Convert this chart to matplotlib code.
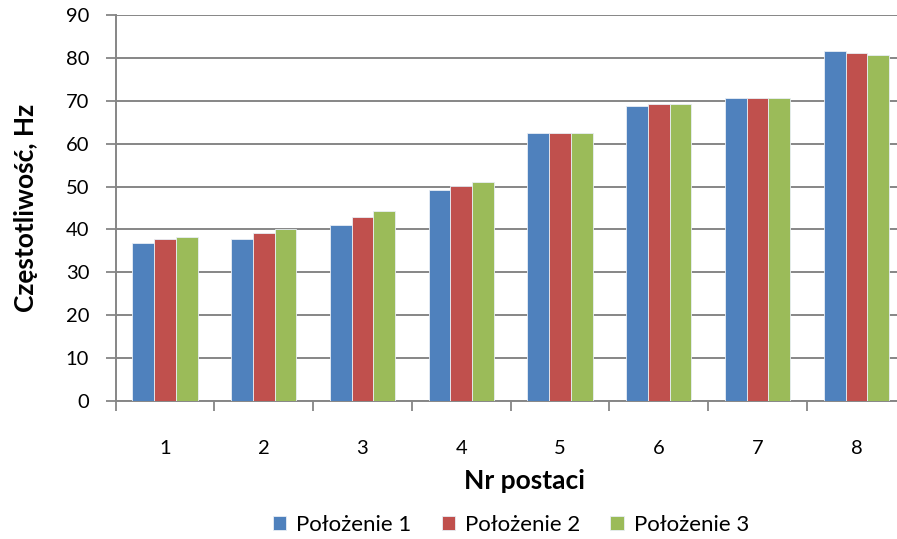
"""
Wykres słupkowy częstotliwości drgań własnych
dla kolejnych postaci i trzech położeń
"""

import numpy as np
from matplotlib import pyplot as plt, rcParams as rcP

# Dane
postacie = ["1", "2", "3", "4", "5", "6", "7", "8"]
polozenie_1 = [36.9, 37.8, 41.1, 49.2, 62.6, 68.8, 70.6, 81.6]
polozenie_2 = [37.8, 39.2, 42.9, 50.2, 62.6, 69.3, 70.6, 81.1]
polozenie_3 = [38.3, 40.1, 44.3, 51.1, 62.6, 69.3, 70.6, 80.7]
etykiety = ["Położenie 1", "Położenie 2", "Położenie 3"]
kolory = ["#4F81BD", "#C0504D", "#9BBB59"]

# Ustawienia wykresu
rcP["font.family"] = ["Lato", "DejaVu Sans"]
rcP["font.size"] = 14.5

fig = plt.figure(figsize=(8.97, 5.39), dpi=100)
ax = fig.add_axes([0.1288, 0.256, 0.881, 0.716])

x = np.arange(len(postacie))
w = 0.22
for i, (vals, lab, kol) in enumerate(zip([polozenie_1, polozenie_2, polozenie_3], etykiety, kolory)):
    ax.bar(x + (i - 1) * w, vals, w, color=kol, label=lab, edgecolor="#e8eef5",
           linewidth=0.6, zorder=3)

# Osie
ax.set_xlim(-0.5, len(postacie) - 0.5)
ax.set_ylim(0, 90)
ax.set_yticks(np.arange(0, 91, 10))
ax.set_xticks(x)
ax.set_xticklabels(postacie)
ax.set_xticks(np.arange(-0.5, len(postacie), 1), minor=True)
ax.tick_params(axis="x", which="major", length=0, pad=28)
ax.tick_params(axis="x", which="minor", length=7, width=1.3, color="#868686")
ax.tick_params(axis="y", length=7, width=1.3, color="#868686", pad=12)

ax.grid(axis="y", color="#868686", linewidth=1.4, zorder=0)
for s in ["top", "right"]:
    ax.spines[s].set_visible(False)
for s in ["left", "bottom"]:
    ax.spines[s].set_color("#868686")
    ax.spines[s].set_linewidth(1.4)

ax.set_xlabel("Nr postaci", fontsize=19, fontweight="bold")
ax.set_ylabel("Częstotliwość, Hz", fontsize=19, fontweight="bold")
ax.xaxis.set_label_coords(0.518, -0.175)
ax.yaxis.set_label_coords(-0.098, 0.5)

# Legenda pod wykresem
fig.legend(*ax.get_legend_handles_labels(), loc="center", bbox_to_anchor=(511 / 897, 14 / 539),
           ncol=3, frameon=False, handlelength=0.6, handleheight=0.6, handletextpad=0.45,
           columnspacing=1.35, fontsize=16)

plt.savefig("out.png", dpi=100)
